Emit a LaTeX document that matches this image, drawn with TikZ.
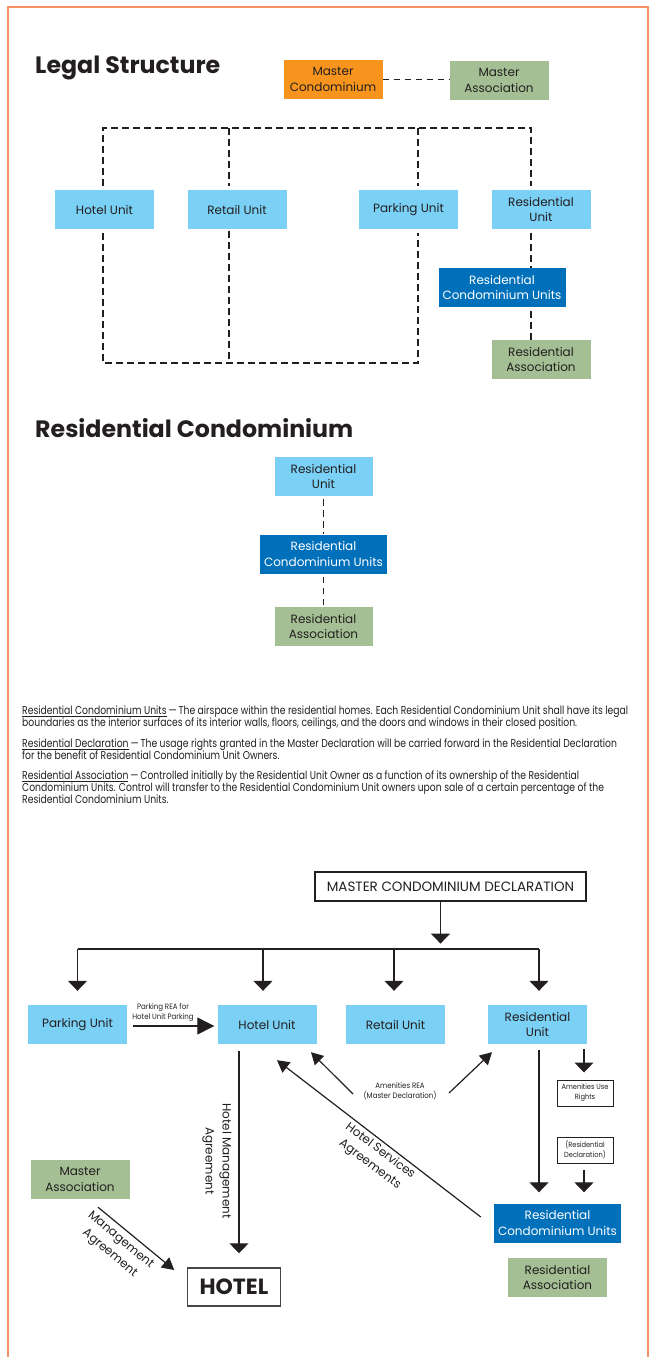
\documentclass[tikz,border=0pt]{standalone}
\usepackage{fontspec}
\setmainfont{Poppins}
\newfontfamily\condfont{Poppins}[FakeStretch=0.81]
\newfontfamily\smallfont{Poppins}[FakeStretch=0.9]
\usetikzlibrary{arrows.meta,calc}
\definecolor{txt}{RGB}{35,31,32}
\definecolor{lblue}{RGB}{122,208,245}
\definecolor{dblue}{RGB}{0,112,186}
\definecolor{morange}{RGB}{247,148,29}
\definecolor{sage}{RGB}{164,191,148}
\definecolor{frameor}{RGB}{245,145,100}
\tikzset{
  box/.style={rectangle, inner sep=0pt, minimum width=99pt, minimum height=39pt, align=center, text=txt, font=\fontsize{12}{15.5}\selectfont},
  lb/.style={box, fill=lblue},
  db/.style={box, fill=dblue, text=white, minimum width=127pt},
  gb/.style={box, fill=sage},
  ob/.style={box, fill=morange},
  dl/.style={draw=txt, line width=1.3pt, dash pattern=on 6.5pt off 4.5pt},
  ln/.style={draw=txt, line width=1.2pt},
  arr/.style={ln, -{Triangle[width=19pt,length=10pt]}},
  sarr/.style={ln, -{Triangle[width=13pt,length=12pt]}},
  smallbox/.style={rectangle, draw=txt, line width=1pt, fill=white, minimum width=56pt, minimum height=26pt, inner sep=0pt, align=center, text=txt, font=\smallfont\fontsize{7.4}{10}\selectfont},
  lbl/.style={text=txt, align=center, inner sep=0pt, font=\smallfont\fontsize{7.8}{10}\selectfont},
  rlbl/.style={text=txt, align=center, inner sep=0pt, font=\fontsize{12}{17}\selectfont},
  title/.style={text=txt, anchor=west, inner sep=0pt, font=\bfseries\fontsize{23.7}{27}\selectfont}
}
\begin{document}
\begin{tikzpicture}[x=1pt,y=-1pt]
\useasboundingbox (0,0) rectangle (655,1357);
% frame
\draw[draw=frameor, line width=2.5pt] (8,1358) -- (8,7) -- (648,7) -- (648,1358);

% ===== Legal Structure =====
\node[title] (t1) at (35,68) {Legal Structure};
\node[ob] (mc) at (333,79.5) {Master\\Condominium};
\node[gb] (ma) at (499,80.5) {Master\\Association};
\draw[dl] (mc.east) -- (mc.east -| ma.west);

\node[lb] (hu1) at (104.5,209.5) {Hotel Unit};
\node[lb] (ru1) at (237,209.5) {Retail Unit};
\node[lb] (pu1) at (408.5,209.5) {Parking Unit};
\node[lb] (resu1) at (541,209.5) {Residential\\Unit};
\node[db] (rcu1) at (502,287.5) {Residential\\Condominium Units};
\node[gb] (ra1) at (541,359.5) {Residential\\Association};

\coordinate (Lh) at (103,128);
\coordinate (Lr) at (229,128);
\coordinate (Lp) at (418,128);
\coordinate (Lres) at (531,128);
\coordinate (Bh) at (103,363);
\coordinate (Br) at (229,363);
\coordinate (Bp) at (418,363);

\draw[dl] ($(Lh |- hu1.north)+(0,-4)$) -- (Lh) -- (Lres) -- ($(Lres |- resu1.north)+(0,-4)$);
\draw[dl] (Lr) -- ($(Lr |- ru1.north)+(0,-4)$);
\draw[dl] (Lp) -- ($(Lp |- pu1.north)+(0,-4)$);
\draw[dl] ($(Lh |- hu1.south)+(0,4)$) -- (Bh) -- (Bp) -- ($(Lp |- pu1.south)+(0,4)$);
\draw[dl] ($(Lr |- ru1.south)+(0,2)$) -- (Br);
\draw[dl] ($(Lres |- resu1.south)+(0,4)$) -- (Lres |- rcu1.north);
\draw[dl] ($(Lres |- rcu1.south)+(0,4)$) -- (Lres |- ra1.north);

% ===== Residential Condominium =====
\node[title] (t2) at (35,428) {Residential Condominium};
\node[lb, minimum width=98pt] (resu2) at (323.5,476.5) {Residential\\Unit};
\node[db] (rcu2) at (323.5,554) {Residential\\Condominium Units};
\node[gb, minimum width=98pt] (ra2) at (323.5,626.5) {Residential\\Association};
\draw[dl] ($(resu2.south)+(0,3)$) -- (rcu2.north);
\draw[dl] ($(rcu2.south)+(0,3)$) -- (ra2.north);

% ===== Paragraphs =====
\node[anchor=north west, inner sep=0pt, align=left, text=txt, font=\condfont\fontsize{11.4}{12}\selectfont] (para) at (22,706) {%
\underline{Residential Condominium Units}\,—\,The airspace within the residential homes. Each Residential Condominium Unit shall have its legal\\
boundaries as the interior surfaces of its interior walls, floors, ceilings, and the doors and windows in their closed position.\\[8.5pt]
\underline{Residential Declaration}\,—\,The usage rights granted in the Master Declaration will be carried forward in the Residential Declaration\\
for the benefit of Residential Condominium Unit Owners.\\[8.5pt]
\underline{Residential Association}\,—\,Controlled initially by the Residential Unit Owner as a function of its ownership of the Residential\\
Condominium Units. Control will transfer to the Residential Condominium Unit owners upon sale of a certain percentage of the\\
Residential Condominium Units.};

% ===== Flow diagram =====
\node[rectangle, draw=txt, line width=1.2pt, fill=white, minimum width=271pt, minimum height=29pt, inner sep=0pt, text=txt, font=\fontsize{13.5}{15}\selectfont] (mcd) at (450.5,886.5) {MASTER CONDOMINIUM DECLARATION};

\node[lb] (pu3) at (77.5,1024.5) {Parking Unit};
\node[lb] (hu3) at (267,1024.5) {Hotel Unit};
\node[lb] (rt3) at (395.5,1024.5) {Retail Unit};
\node[lb] (res3) at (537.5,1024.5) {Residential\\Unit};

\coordinate (H) at (0,949);
\draw[arr] ($(mcd.south)+(-10,0)$) -- ++(0,42);
\draw[ln] ($(pu3.north |- H)$) -- ($(res3.north |- H)+(1.5,0)$);
\draw[arr] ($(pu3.north |- H)$) -- ($(pu3.north)+(0,-14)$);
\draw[arr] ($(hu3.north |- H)+(-4,0)$) -- ($(hu3.north)+(-4,-14)$);
\draw[arr] ($(rt3.north |- H)+(-1.5,0)$) -- ($(rt3.north)+(-1.5,-14)$);
\draw[arr] ($(res3.north |- H)+(1.5,0)$) -- ($(res3.north)+(1.5,-14)$);

% Parking REA
\draw[ln, -{Triangle[width=17pt,length=17pt]}] ($(pu3.east)+(6,1.5)$) -- ($(hu3.west)+(-3,1.5)$);
\node[lbl] (prea) at (163,1013) {Parking REA for\\Hotel Unit Parking};

% HOTEL and management
\node[rectangle, draw={rgb,255:red,70;green,70;blue,70}, line width=1.5pt, minimum width=93pt, minimum height=38pt, inner sep=0pt, text=txt, font=\bfseries\fontsize{22}{24}\selectfont] (hotel) at (234,1287) {HOTEL};
\node[gb] (ma3) at (80,1179.5) {Master\\Association};

\draw[arr] ($(hu3.south)+(-28,7)$) -- ($(hotel.north)+(5,-14)$);
\node[rlbl, rotate=-90] (hma) at (217,1161) {Hotel Management\\Agreement};

\draw[sarr] ($(ma3.south)+(18,8)$) -- ($(hotel.west)+(-12.5,-17)$);
\node[rlbl, rotate=-40] (mag) at (115,1247) {Management\\Agreement};

% Residential condominium units side
\node[db] (rcu3) at (557.5,1223) {Residential\\Condominium Units};
\node[gb] (ra3) at (557.5,1277.5) {Residential\\Association};
\node[smallbox] (aur) at (585,1093) {Amenities Use\\Rights};
\node[smallbox] (rd) at (585,1150) {(Residential\\Declaration)};

\draw[arr] ($(res3.south)+(1.5,6)$) -- ($(rcu3.north)+(-18.5,-11)$);
\draw[arr] ($(res3.south)+(46.5,5)$) -- ($(aur.north)+(-1,-7)$);
\draw[arr] ($(rd.south)+(-1,6)$) -- ($(rcu3.north)+(26.5,-11)$);

% Hotel services
\draw[sarr] ($(rcu3.west)+(-13,-6)$) -- ($(hu3.south)+(10,16)$);
\node[rlbl, rotate=-37] (hsa) at (375,1158) {Hotel Services\\Agreements};

% Amenities REA
\node[lbl] (amen) at (400,1091) {Amenities REA\\(Master Declaration)};
\draw[sarr] ($(amen)+(-47,3)$) -- ($(hu3.south)+(44,8)$);
\draw[sarr] ($(amen)+(49,2)$) -- ($(res3.south)+(-45.5,8)$);
\end{tikzpicture}
\end{document}
